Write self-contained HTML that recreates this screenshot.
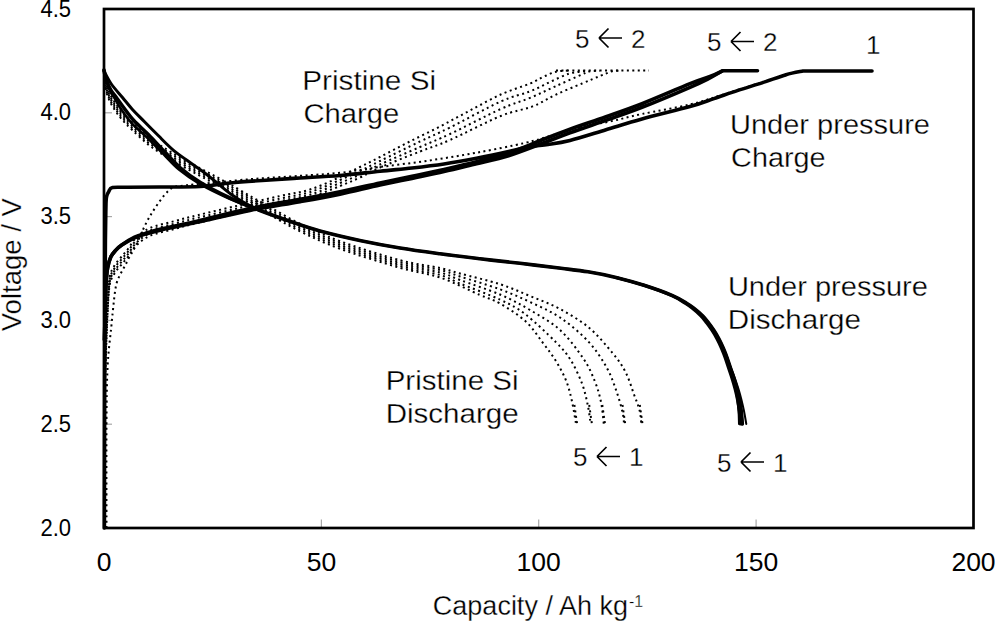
<!DOCTYPE html>
<html><head><meta charset="utf-8"><style>
html,body{margin:0;padding:0;background:#fff;}
svg{display:block;}
text{font-family:"Liberation Sans",sans-serif;fill:#000;}
.yt{font-size:23px;}
.xt{font-size:26.5px;}
.lab{font-size:26px;stroke:#fff;stroke-width:0.3px;}
.ann{font-size:27px;stroke:#fff;stroke-width:0.3px;}
</style></head><body>
<svg width="995" height="621" viewBox="0 0 995 621">
<rect x="0" y="0" width="995" height="621" fill="#fff"/>
<line x1="105" x2="112" y1="112.8" y2="112.8" stroke="#a8a8a8" stroke-width="1.2"/><line x1="105" x2="112" y1="216.6" y2="216.6" stroke="#a8a8a8" stroke-width="1.2"/><line x1="105" x2="112" y1="320.4" y2="320.4" stroke="#a8a8a8" stroke-width="1.2"/><line x1="105" x2="112" y1="424.2" y2="424.2" stroke="#a8a8a8" stroke-width="1.2"/><line x1="321.4" x2="321.4" y1="519.5" y2="527" stroke="#a8a8a8" stroke-width="1.2"/><line x1="538.7" x2="538.7" y1="519.5" y2="527" stroke="#a8a8a8" stroke-width="1.2"/><line x1="756.1" x2="756.1" y1="519.5" y2="527" stroke="#a8a8a8" stroke-width="1.2"/>
<path d="M104.0,75.2 C104.3,76.3 104.8,79.1 105.6,81.9 C106.4,84.7 107.5,88.6 109.0,92.0 C110.5,95.4 112.6,99.0 114.7,102.2 C116.8,105.4 118.5,107.9 121.4,111.2 C124.3,114.5 127.2,117.7 132.0,122.2 C136.8,126.7 143.3,133.1 150.0,138.2 C156.7,143.3 163.7,147.7 172.0,152.7 C180.3,157.7 190.8,163.2 200.0,168.2 C209.2,173.2 216.7,176.9 227.0,182.7 C237.3,188.4 249.8,195.9 262.0,202.7 C274.2,209.5 287.0,217.3 300.0,223.7 C313.0,230.1 323.3,235.1 340.0,241.2 C356.7,247.3 383.3,255.7 400.0,260.2 C416.7,264.7 430.0,265.8 440.0,268.0 C450.0,270.2 450.0,270.8 460.0,273.5 C470.0,276.2 488.3,280.4 500.0,284.2 C511.7,287.9 520.0,291.9 530.0,296.0 C540.0,300.1 550.2,303.7 560.0,309.0 C569.8,314.3 580.2,320.4 589.0,327.7 C597.8,335.0 606.4,345.6 612.5,353.0 C618.6,360.4 621.9,365.0 625.5,372.0 C629.1,379.0 631.9,388.7 634.2,395.0 C636.5,401.3 638.3,405.3 639.5,410.0 C640.7,414.7 641.0,420.8 641.3,423.0" fill="none" stroke="#000" stroke-width="2.0" stroke-dasharray="2 3.45"/>
<path d="M104.0,77.1 C104.3,78.2 104.8,81.0 105.6,83.8 C106.4,86.6 107.5,90.5 109.0,93.9 C110.5,97.3 112.6,100.9 114.7,104.1 C116.8,107.3 118.5,109.8 121.4,113.1 C124.3,116.4 127.2,119.6 132.0,124.1 C136.8,128.6 143.3,135.0 150.0,140.1 C156.7,145.2 163.7,149.6 172.0,154.6 C180.3,159.6 190.8,165.1 200.0,170.1 C209.2,175.1 216.7,178.8 227.0,184.6 C237.3,190.3 249.8,197.8 262.0,204.6 C274.2,211.4 287.0,219.2 300.0,225.6 C313.0,232.0 323.3,237.0 340.0,243.1 C356.7,249.2 383.3,257.6 400.0,262.1 C416.7,266.6 430.0,267.6 440.0,270.0 C450.0,272.4 450.0,273.3 460.0,276.5 C470.0,279.7 488.3,285.1 500.0,289.3 C511.7,293.6 520.0,297.3 530.0,302.0 C540.0,306.7 550.3,311.0 560.0,317.5 C569.7,324.0 580.2,332.9 588.0,341.2 C595.8,349.5 601.9,359.0 606.7,367.5 C611.5,376.0 614.1,384.7 616.8,392.2 C619.4,399.7 621.4,407.3 622.6,412.5 C623.8,417.7 623.8,421.5 624.0,423.3" fill="none" stroke="#000" stroke-width="2.0" stroke-dasharray="2 3.45"/>
<path d="M104.0,79.0 C104.3,80.1 104.8,82.9 105.6,85.7 C106.4,88.5 107.5,92.4 109.0,95.8 C110.5,99.2 112.6,102.8 114.7,106.0 C116.8,109.2 118.5,111.7 121.4,115.0 C124.3,118.3 127.2,121.5 132.0,126.0 C136.8,130.5 143.3,136.9 150.0,142.0 C156.7,147.1 163.7,151.5 172.0,156.5 C180.3,161.5 190.8,167.0 200.0,172.0 C209.2,177.0 216.7,180.8 227.0,186.5 C237.3,192.2 249.8,199.7 262.0,206.5 C274.2,213.3 287.0,221.1 300.0,227.5 C313.0,233.9 323.3,238.9 340.0,245.0 C356.7,251.1 383.3,259.4 400.0,264.0 C416.7,268.6 430.0,269.8 440.0,272.5 C450.0,275.2 450.0,276.3 460.0,280.0 C470.0,283.7 488.3,289.5 500.0,294.5 C511.7,299.5 520.0,304.1 530.0,310.0 C540.0,315.9 551.1,321.9 560.0,330.0 C568.9,338.1 577.6,350.1 583.5,358.8 C589.4,367.5 592.2,374.8 595.1,382.0 C598.0,389.2 599.5,395.0 601.0,402.0 C602.5,409.0 603.3,420.3 603.8,424.0" fill="none" stroke="#000" stroke-width="2.0" stroke-dasharray="2 3.45"/>
<path d="M104.0,80.9 C104.3,82.0 104.8,84.8 105.6,87.6 C106.4,90.4 107.5,94.3 109.0,97.7 C110.5,101.1 112.6,104.7 114.7,107.9 C116.8,111.1 118.5,113.6 121.4,116.9 C124.3,120.2 127.2,123.4 132.0,127.9 C136.8,132.4 143.3,138.8 150.0,143.9 C156.7,149.0 163.7,153.4 172.0,158.4 C180.3,163.4 190.8,168.9 200.0,173.9 C209.2,178.9 216.7,182.7 227.0,188.4 C237.3,194.2 249.8,201.6 262.0,208.4 C274.2,215.2 287.0,223.0 300.0,229.4 C313.0,235.8 323.3,240.8 340.0,246.9 C356.7,253.0 383.3,261.2 400.0,265.9 C416.7,270.6 430.0,272.1 440.0,275.0 C450.0,277.9 450.0,279.4 460.0,283.5 C470.0,287.6 489.2,294.5 500.0,299.6 C510.8,304.7 515.7,306.9 525.0,314.0 C534.3,321.1 548.3,334.6 555.9,342.2 C563.5,349.8 566.0,352.7 570.4,359.6 C574.8,366.5 579.1,375.9 582.0,383.5 C584.9,391.1 586.3,398.4 587.8,405.2 C589.2,411.9 590.2,420.9 590.7,424.0" fill="none" stroke="#000" stroke-width="2.0" stroke-dasharray="2 3.45"/>
<path d="M104.0,82.8 C104.3,83.9 104.8,86.7 105.6,89.5 C106.4,92.3 107.5,96.2 109.0,99.6 C110.5,103.0 112.6,106.6 114.7,109.8 C116.8,113.0 118.5,115.5 121.4,118.8 C124.3,122.1 127.2,125.3 132.0,129.8 C136.8,134.3 143.3,140.7 150.0,145.8 C156.7,150.9 163.7,155.3 172.0,160.3 C180.3,165.3 190.8,170.8 200.0,175.8 C209.2,180.8 216.7,184.6 227.0,190.3 C237.3,196.1 249.8,203.5 262.0,210.3 C274.2,217.1 287.0,224.9 300.0,231.3 C313.0,237.7 323.3,242.7 340.0,248.8 C356.7,254.9 383.3,263.0 400.0,267.8 C416.7,272.6 426.7,273.0 440.0,277.5 C453.3,282.0 470.0,290.7 480.0,295.0 C490.0,299.3 492.4,299.1 500.0,303.5 C507.6,307.9 518.6,314.9 525.8,321.5 C532.9,328.1 537.9,336.3 542.9,342.9 C547.9,349.5 552.0,354.7 555.9,361.0 C559.8,367.3 563.4,373.9 566.1,380.6 C568.8,387.3 570.3,393.9 571.9,401.0 C573.5,408.1 575.2,419.3 575.9,423.0" fill="none" stroke="#000" stroke-width="2.0" stroke-dasharray="2 3.45"/>
<path d="M639.8,405.0 L642.5,424.0" fill="none" stroke="#000" stroke-width="2.0" stroke-dasharray="2 3.45"/>
<path d="M622.5,405.0 L625.2,424.0" fill="none" stroke="#000" stroke-width="2.0" stroke-dasharray="2 3.45"/>
<path d="M602.3,405.0 L605.0,424.0" fill="none" stroke="#000" stroke-width="2.0" stroke-dasharray="2 3.45"/>
<path d="M589.2,405.0 L591.9,424.0" fill="none" stroke="#000" stroke-width="2.0" stroke-dasharray="2 3.45"/>
<path d="M574.4,405.0 L577.1,424.0" fill="none" stroke="#000" stroke-width="2.0" stroke-dasharray="2 3.45"/>
<path d="M106.5,528.0 C106.5,510.0 106.3,447.2 106.5,420.0 C106.7,392.8 106.9,380.5 107.7,365.0 C108.5,349.5 110.2,337.8 111.3,327.0 C112.3,316.2 113.2,307.2 114.0,300.0 C114.8,292.8 115.4,288.3 116.4,284.0 C117.5,279.7 118.8,277.4 120.3,274.3 C121.8,271.2 123.5,268.7 125.1,265.6 C126.7,262.5 128.2,259.2 130.0,255.9 C131.8,252.6 132.4,252.5 135.7,245.8 C139.0,239.2 144.4,225.3 150.0,216.0 C155.6,206.7 163.5,195.1 169.3,190.0 C175.1,184.9 179.9,186.5 185.0,185.5 C190.1,184.5 189.2,185.1 200.0,184.0 C210.8,182.9 233.3,180.6 250.0,179.2 C266.7,177.8 285.0,176.9 300.0,175.8 C315.0,174.7 326.7,174.3 340.0,172.8 C353.3,171.3 365.3,169.0 380.0,167.0 C394.7,165.0 411.9,163.1 428.0,160.7 C444.1,158.3 460.4,155.6 476.5,152.7 C492.6,149.8 512.5,145.8 524.7,143.0 C537.0,140.2 540.8,138.7 550.0,136.0 C559.2,133.3 570.0,129.4 580.0,127.0 C590.0,124.6 599.7,123.7 610.0,121.5 C620.3,119.3 628.7,116.8 642.0,114.0 C655.3,111.2 677.0,107.6 690.0,104.5 C703.0,101.4 708.3,99.1 720.0,95.5 C731.7,91.9 746.7,87.1 760.0,83.0 C773.3,78.9 793.3,73.0 800.0,71.0" fill="none" stroke="#000" stroke-width="2.0" stroke-dasharray="2 3.45"/>
<path d="M105.0,375.0 C105.2,367.5 106.0,342.1 106.5,330.0 C107.0,317.9 107.2,311.3 107.7,302.5 C108.2,293.7 108.6,283.1 109.7,277.0 C110.8,270.9 112.6,268.9 114.5,265.6 C116.4,262.3 119.0,259.8 121.3,257.0 C123.5,254.2 125.5,252.2 128.0,249.0 C130.4,245.8 132.3,241.5 136.0,238.0 C139.7,234.5 143.5,230.8 150.0,228.0 C156.5,225.2 166.9,223.2 175.0,221.0 C183.1,218.8 187.7,217.6 198.3,215.0 C208.9,212.4 225.0,208.7 238.6,205.5 C252.2,202.3 268.1,198.7 280.0,196.0 C291.9,193.3 300.0,192.7 310.0,189.5 C320.0,186.3 331.7,180.8 340.0,177.0 C348.3,173.2 353.3,170.3 360.0,167.0 C366.7,163.7 371.9,161.2 380.0,157.0 C388.1,152.8 398.8,147.1 408.8,142.0 C418.8,136.9 429.8,131.8 440.0,126.5 C450.2,121.2 459.9,115.8 470.0,110.5 C480.1,105.2 490.7,99.0 500.7,94.5 C510.7,90.0 523.0,86.4 530.0,83.5 C537.0,80.6 538.7,79.0 543.0,77.0 C547.3,75.0 551.7,72.9 556.0,71.8 C560.3,70.7 566.8,70.7 569.0,70.5" fill="none" stroke="#000" stroke-width="2.0" stroke-dasharray="2 3.45"/>
<path d="M105.0,377.6 C105.2,370.1 106.0,344.7 106.5,332.6 C107.0,320.5 107.2,313.9 107.7,305.1 C108.2,296.3 108.6,285.8 109.7,279.6 C110.8,273.5 112.6,271.5 114.5,268.2 C116.4,264.9 119.0,262.4 121.3,259.6 C123.5,256.8 125.5,254.8 128.0,251.6 C130.4,248.4 132.3,244.1 136.0,240.6 C139.7,237.1 143.5,233.4 150.0,230.6 C156.5,227.8 166.9,225.8 175.0,223.6 C183.1,221.4 187.7,220.2 198.3,217.6 C208.9,215.0 225.0,211.3 238.6,208.1 C252.2,204.9 268.1,201.3 280.0,198.6 C291.9,195.9 300.0,195.2 310.0,192.1 C320.0,189.0 331.7,183.5 340.0,180.0 C348.3,176.5 353.3,174.2 360.0,171.0 C366.7,167.8 370.0,165.9 380.0,161.0 C390.0,156.1 408.3,147.1 420.0,141.5 C431.7,135.9 436.6,134.2 450.0,127.5 C463.4,120.8 487.4,107.5 500.7,101.5 C514.0,95.5 521.9,94.6 530.0,91.4 C538.1,88.2 543.1,85.2 549.6,82.2 C556.1,79.2 563.1,75.6 569.0,73.7 C574.9,71.8 582.3,71.5 585.0,71.0" fill="none" stroke="#000" stroke-width="2.0" stroke-dasharray="2 3.45"/>
<path d="M105.0,380.2 C105.2,372.7 106.0,347.3 106.5,335.2 C107.0,323.1 107.2,316.5 107.7,307.7 C108.2,298.9 108.6,288.3 109.7,282.2 C110.8,276.1 112.6,274.1 114.5,270.8 C116.4,267.5 119.0,265.0 121.3,262.2 C123.5,259.4 125.5,257.4 128.0,254.2 C130.4,251.0 132.3,246.7 136.0,243.2 C139.7,239.7 143.5,236.0 150.0,233.2 C156.5,230.4 166.9,228.4 175.0,226.2 C183.1,224.0 187.7,222.8 198.3,220.2 C208.9,217.6 225.0,213.9 238.6,210.7 C252.2,207.5 268.1,203.9 280.0,201.2 C291.9,198.5 300.0,197.7 310.0,194.7 C320.0,191.7 331.7,186.4 340.0,183.0 C348.3,179.6 353.3,177.6 360.0,174.5 C366.7,171.4 370.0,169.1 380.0,164.5 C390.0,159.9 408.3,152.1 420.0,147.0 C431.7,141.9 436.6,140.3 450.0,134.0 C463.4,127.7 487.4,115.0 500.7,109.0 C514.0,103.0 520.8,101.7 530.0,97.9 C539.2,94.1 547.3,90.0 556.0,86.1 C564.7,82.2 576.5,76.8 582.0,74.4 C587.5,72.0 586.0,72.1 589.0,71.5 C592.0,70.9 598.2,70.8 600.0,70.7" fill="none" stroke="#000" stroke-width="2.0" stroke-dasharray="2 3.45"/>
<path d="M105.0,382.8 C105.2,375.3 106.0,349.9 106.5,337.8 C107.0,325.7 107.2,319.1 107.7,310.3 C108.2,301.5 108.6,290.9 109.7,284.8 C110.8,278.7 112.6,276.7 114.5,273.4 C116.4,270.1 119.0,267.6 121.3,264.8 C123.5,262.0 125.5,260.0 128.0,256.8 C130.4,253.6 132.3,249.3 136.0,245.8 C139.7,242.3 143.5,238.6 150.0,235.8 C156.5,233.0 166.9,231.0 175.0,228.8 C183.1,226.6 187.7,225.4 198.3,222.8 C208.9,220.2 225.0,216.5 238.6,213.3 C252.2,210.1 268.1,206.5 280.0,203.8 C291.9,201.1 300.0,200.3 310.0,197.3 C320.0,194.3 331.7,189.3 340.0,186.0 C348.3,182.7 353.3,180.6 360.0,177.5 C366.7,174.4 370.0,171.8 380.0,167.5 C390.0,163.2 408.3,156.1 420.0,151.5 C431.7,146.9 436.6,145.9 450.0,140.0 C463.4,134.1 486.9,121.6 500.7,116.0 C514.5,110.4 523.4,110.0 532.6,106.4 C541.8,102.8 547.8,98.4 556.0,94.6 C564.2,90.8 574.7,86.6 582.0,83.5 C589.3,80.4 595.0,78.0 600.0,76.0 C605.0,74.0 608.7,72.2 612.0,71.3 C615.3,70.4 618.7,70.8 620.0,70.7" fill="none" stroke="#000" stroke-width="2.0" stroke-dasharray="2 3.45"/>
<path d="M556,70.5 H649" fill="none" stroke="#000" stroke-width="2.0" stroke-dasharray="2 3.45"/>
<path d="M104.0,71.0 C105.2,73.2 108.2,79.6 111.3,84.0 C114.4,88.4 118.9,93.2 122.5,97.5 C126.1,101.8 129.2,106.0 132.9,110.0 C136.6,114.0 140.2,117.4 144.5,121.8 C148.8,126.2 154.2,131.6 159.0,136.3 C163.8,141.1 168.7,146.2 173.5,150.3 C178.3,154.4 183.2,157.5 188.0,161.0 C192.8,164.5 197.8,167.8 202.5,171.3 C207.2,174.8 211.2,178.1 216.0,182.0 C220.8,185.9 226.6,191.0 231.4,194.5 C236.2,198.0 240.2,200.4 245.0,203.0 C249.8,205.6 257.5,209.1 260.0,210.3" fill="none" stroke="#000" stroke-width="3.0" stroke-linejoin="round" stroke-linecap="round"/>
<path d="M104.0,70.0 C104.3,71.5 104.8,75.6 106.0,79.0 C107.2,82.4 109.3,87.5 111.0,90.5 C112.7,93.5 114.1,94.4 116.0,97.0 C117.9,99.6 119.5,102.1 122.5,106.0 C125.5,109.9 129.5,115.8 133.8,120.5 C138.1,125.2 143.2,129.3 148.3,134.5 C153.4,139.7 159.0,145.9 164.4,151.5 C169.8,157.1 174.5,162.8 180.5,168.0 C186.5,173.2 192.2,177.5 200.5,182.5 C208.8,187.5 220.1,193.3 230.0,198.0 C239.9,202.7 250.0,206.6 260.0,210.5 C270.0,214.4 280.0,217.9 290.0,221.3 C300.0,224.7 308.2,227.8 320.0,231.0 C331.8,234.2 347.7,237.9 361.0,240.7 C374.3,243.5 386.8,245.8 400.0,248.0 C413.2,250.2 426.7,252.0 440.0,253.8 C453.3,255.6 466.7,257.2 480.0,258.8 C493.3,260.4 506.5,261.7 520.0,263.3 C533.5,264.9 549.7,266.9 561.0,268.3 C572.3,269.7 578.8,270.3 588.0,271.8 C597.2,273.3 606.7,275.2 616.0,277.5 C625.3,279.8 634.6,282.3 644.0,285.3 C653.4,288.3 665.5,292.6 672.6,295.6 C679.7,298.6 683.1,301.2 686.6,303.3 C690.1,305.4 691.1,306.1 693.8,308.2 C696.5,310.3 700.3,313.6 702.8,316.0 C705.2,318.4 706.6,320.4 708.5,322.8 C710.4,325.2 712.2,327.8 714.0,330.5 C715.8,333.2 717.5,336.2 719.0,339.0 C720.5,341.8 721.7,344.4 723.0,347.5 C724.3,350.6 725.8,354.1 727.0,357.5 C728.2,360.9 729.3,364.5 730.5,368.0 C731.7,371.5 732.9,375.0 734.0,378.5 C735.1,382.0 736.1,385.4 737.0,389.0 C737.9,392.6 738.8,396.3 739.5,400.0 C740.2,403.7 740.7,407.0 741.2,411.0 C741.7,415.0 742.1,421.8 742.3,424.0" fill="none" stroke="#000" stroke-width="3.6" stroke-linejoin="round" stroke-linecap="round"/>
<path d="M104.0,70.0 C104.3,71.5 104.8,75.7 105.8,79.3 C106.9,82.9 108.8,88.3 110.3,91.5 C111.8,94.7 113.1,95.9 114.9,98.7 C116.6,101.6 117.9,104.5 120.7,108.6 C123.6,112.7 127.6,118.6 131.9,123.3 C136.2,128.0 141.5,131.9 146.6,137.0 C151.8,142.0 157.5,148.2 163.0,153.6 C168.4,159.1 173.2,164.7 179.3,169.8 C185.4,174.8 191.2,179.0 199.6,183.8 C208.0,188.6 219.5,194.2 229.6,198.7 C239.6,203.1 249.9,206.7 260.0,210.5 C270.1,214.3 280.0,217.9 290.0,221.3 C300.0,224.7 308.2,227.8 320.0,231.0 C331.8,234.2 347.7,237.9 361.0,240.7 C374.3,243.5 386.8,245.8 400.0,248.0 C413.2,250.2 426.7,252.0 440.0,253.8 C453.3,255.6 466.7,257.2 480.0,258.8 C493.3,260.4 506.5,261.7 520.0,263.3 C533.5,264.9 549.7,266.9 561.0,268.3 C572.3,269.7 578.8,270.3 588.0,271.8 C597.2,273.3 606.7,275.2 616.0,277.5 C625.3,279.8 634.6,282.3 644.0,285.3 C653.4,288.3 665.5,292.6 672.6,295.6 C679.7,298.6 683.1,301.2 686.6,303.3 C690.1,305.4 691.1,306.1 693.8,308.2 C696.5,310.3 700.3,313.6 702.8,316.0 C705.2,318.4 706.6,320.4 708.5,322.8 C710.4,325.2 712.2,327.8 714.0,330.5 C715.8,333.2 717.5,336.2 719.0,339.0 C720.5,341.8 721.7,344.4 723.0,347.5 C724.3,350.6 725.8,354.1 727.0,357.5 C728.2,360.9 729.3,364.5 730.5,368.0 C731.7,371.5 732.9,375.0 734.0,378.5 C735.1,382.0 736.1,385.4 737.0,389.0 C737.9,392.6 738.8,396.3 739.5,400.0 C740.2,403.7 740.7,407.0 741.2,411.0 C741.7,415.0 742.1,421.8 742.3,424.0" fill="none" stroke="#000" stroke-width="2.6" stroke-linejoin="round" stroke-linecap="round"/>
<path d="M616.0,277.5 C620.7,278.8 634.7,282.3 644.0,285.3 C653.3,288.3 664.8,292.6 671.7,295.6 C678.6,298.6 681.7,301.2 685.1,303.3 C688.5,305.4 689.4,306.1 692.0,308.2 C694.7,310.3 698.4,313.6 700.8,316.0 C703.2,318.4 704.6,320.4 706.5,322.8 C708.4,325.2 710.2,327.8 712.0,330.5 C713.8,333.2 715.5,336.2 717.0,339.0 C718.5,341.8 719.7,344.4 721.0,347.5 C722.3,350.6 723.8,354.1 725.0,357.5 C726.2,360.9 727.3,364.5 728.5,368.0 C729.7,371.5 730.9,375.0 732.0,378.5 C733.1,382.0 734.1,385.4 735.0,389.0 C735.9,392.6 736.8,396.3 737.5,400.0 C738.2,403.7 738.7,407.0 739.2,411.0 C739.7,415.0 740.1,421.8 740.3,424.0" fill="none" stroke="#000" stroke-width="3.0" stroke-linejoin="round" stroke-linecap="round"/>
<path d="M719.0,339.0 C719.7,340.4 721.7,344.4 723.0,347.5 C724.3,350.6 725.8,354.1 727.0,357.5 C728.2,360.9 729.0,364.5 730.0,368.0 C731.0,371.5 732.1,375.0 733.0,378.5 C733.9,382.0 734.8,385.4 735.5,389.0 C736.2,392.6 736.8,396.3 737.3,400.0 C737.8,403.7 738.2,407.0 738.5,411.0 C738.8,415.0 738.9,421.8 739.0,424.0" fill="none" stroke="#000" stroke-width="2.0" stroke-linejoin="round" stroke-linecap="round"/>
<path d="M719.0,339.0 C719.7,340.4 721.7,344.4 723.0,347.5 C724.3,350.6 725.7,354.1 727.0,357.5 C728.3,360.9 729.7,364.5 731.0,368.0 C732.3,371.5 733.8,375.0 735.0,378.5 C736.2,382.0 737.4,385.4 738.5,389.0 C739.6,392.6 740.6,396.3 741.5,400.0 C742.4,403.7 743.2,407.0 744.0,411.0 C744.8,415.0 745.9,421.8 746.3,424.0" fill="none" stroke="#000" stroke-width="2.0" stroke-linejoin="round" stroke-linecap="round"/>
<path d="M104.4,528 L104.8,330 L105.4,240 L105.8,212 L106,203 C106.1,201.9 106.1,198.4 106.6,196.5 C107.1,194.6 107.8,193.0 108.8,191.5 C109.8,190.0 109.3,188.2 112.5,187.5 C115.7,186.8 120.1,187.4 128.0,187.3 C135.9,187.2 148.0,187.1 160.0,187.0 C172.0,186.9 188.3,187.2 200.0,186.5 C211.7,185.8 219.7,184.0 230.0,183.0 C240.3,182.0 250.3,181.3 262.0,180.5 C273.7,179.7 287.0,178.8 300.0,178.0 C313.0,177.2 326.7,176.6 340.0,175.5 C353.3,174.4 368.0,172.4 380.0,171.2 C392.0,169.9 401.3,169.2 412.0,168.0 C422.7,166.8 433.2,165.6 444.0,164.0 C454.8,162.4 465.7,160.4 476.5,158.3 C487.3,156.2 499.7,153.5 508.6,151.5 C517.5,149.5 523.4,147.7 530.0,146.5 C536.6,145.3 541.3,145.5 548.0,144.5 C554.7,143.5 560.3,142.9 570.0,140.5 C579.7,138.1 594.0,133.4 606.0,129.8 C618.0,126.2 628.0,122.9 642.0,119.0 C656.0,115.1 678.0,110.0 690.0,106.6 C702.0,103.2 706.0,101.3 714.0,98.6 C722.0,95.9 730.0,93.0 738.0,90.4 C746.0,87.8 754.0,85.5 762.0,82.9 C770.0,80.3 779.2,76.7 786.0,74.7 C792.8,72.7 800.2,71.6 803.0,71.0 L872.0,71.0" fill="none" stroke="#000" stroke-width="3.6" stroke-linejoin="round" stroke-linecap="round"/>
<path d="M104.5,340.0 C104.7,333.3 105.1,310.0 105.4,300.0 C105.7,290.0 105.9,285.3 106.3,280.0 C106.7,274.6 106.8,271.8 107.6,268.0 C108.3,264.1 109.5,259.9 110.8,256.9 C112.1,254.0 113.7,252.4 115.5,250.4 C117.3,248.4 118.5,247.0 121.7,244.9 C124.9,242.7 130.3,239.3 134.6,237.2 C138.9,235.2 142.8,234.2 147.5,232.8 C152.2,231.3 158.4,229.7 163.0,228.6 C167.6,227.4 169.2,227.3 175.0,226.0 C180.8,224.7 185.5,223.8 198.0,220.9 C210.5,218.0 233.0,212.2 250.0,208.6 C267.0,205.0 285.0,202.1 300.0,199.3 C315.0,196.5 326.7,194.6 340.0,191.8 C353.3,189.1 368.0,185.5 380.0,182.9 C392.0,180.3 401.3,178.5 412.0,176.2 C422.7,174.0 433.2,171.9 444.0,169.5 C454.8,167.0 465.7,164.5 476.5,161.7 C487.3,158.9 498.0,156.4 508.6,152.9 C519.2,149.4 529.8,144.7 540.0,140.7 C550.2,136.7 559.0,133.2 570.0,129.2 C581.0,125.2 594.0,121.0 606.0,116.7 C618.0,112.5 628.0,109.2 642.0,103.7 C656.0,98.2 678.7,88.2 690.0,83.7 C701.3,79.2 704.6,78.7 710.0,76.5 C715.4,74.4 720.4,71.8 722.5,70.8 L757.5,70.8" fill="none" stroke="#000" stroke-width="3.6" stroke-linejoin="round" stroke-linecap="round"/>
<path d="M104.5,340.0 C104.7,333.3 105.1,310.0 105.4,300.0 C105.7,290.0 105.9,285.3 106.3,280.0 C106.7,274.7 106.8,271.9 107.6,268.0 C108.3,264.2 109.5,260.0 110.8,257.1 C112.1,254.2 113.7,252.6 115.5,250.6 C117.3,248.6 118.5,247.3 121.7,245.1 C124.9,243.0 130.3,239.7 134.6,237.8 C138.9,235.8 142.8,234.8 147.5,233.4 C152.2,232.1 158.4,230.5 163.0,229.4 C167.6,228.4 169.2,228.2 175.0,227.0 C180.8,225.8 185.5,224.9 198.0,222.1 C210.5,219.4 233.0,213.8 250.0,210.4 C267.0,207.0 285.0,204.4 300.0,201.7 C315.0,199.0 326.7,196.9 340.0,194.2 C353.3,191.4 368.0,187.7 380.0,185.1 C392.0,182.5 401.3,180.6 412.0,178.4 C422.7,176.1 433.2,174.0 444.0,171.5 C454.8,169.1 465.7,166.3 476.5,163.7 C487.3,161.1 498.0,158.9 508.6,155.7 C519.2,152.4 529.8,148.1 540.0,144.3 C550.2,140.5 559.0,136.8 570.0,132.8 C581.0,128.8 594.0,124.5 606.0,120.3 C618.0,116.0 628.0,112.8 642.0,107.3 C656.0,101.8 678.7,92.2 690.0,87.3 C701.3,82.4 704.6,80.6 710.0,77.9 C715.4,75.1 720.4,72.0 722.5,70.8" fill="none" stroke="#000" stroke-width="3.6" stroke-linejoin="round" stroke-linecap="round"/>
<rect x="104" y="9" width="869.5" height="519" fill="none" stroke="#000" stroke-width="2.7"/>
<text x="71" y="16.6" text-anchor="end" class="yt" textLength="30.6" lengthAdjust="spacingAndGlyphs">4.5</text><text x="71" y="120.4" text-anchor="end" class="yt" textLength="30.6" lengthAdjust="spacingAndGlyphs">4.0</text><text x="71" y="224.2" text-anchor="end" class="yt" textLength="30.6" lengthAdjust="spacingAndGlyphs">3.5</text><text x="71" y="328.0" text-anchor="end" class="yt" textLength="30.6" lengthAdjust="spacingAndGlyphs">3.0</text><text x="71" y="431.8" text-anchor="end" class="yt" textLength="30.6" lengthAdjust="spacingAndGlyphs">2.5</text><text x="71" y="535.6" text-anchor="end" class="yt" textLength="30.6" lengthAdjust="spacingAndGlyphs">2.0</text>
<text x="104.0" y="571" text-anchor="middle" class="xt">0</text><text x="321.4" y="571" text-anchor="middle" class="xt">50</text><text x="538.7" y="571" text-anchor="middle" class="xt">100</text><text x="756.1" y="571" text-anchor="middle" class="xt">150</text><text x="973.5" y="571" text-anchor="middle" class="xt">200</text>
<text x="538" y="614.5" text-anchor="middle" class="ann">Capacity / Ah kg<tspan dy="-8" dx="1" font-size="16">-1</tspan></text>
<text transform="translate(20.5,264.7) rotate(-90)" text-anchor="middle" class="ann" textLength="133" lengthAdjust="spacingAndGlyphs">Voltage / V</text>
<text x="302.3" y="90" class="ann" textLength="133.8" lengthAdjust="spacingAndGlyphs">Pristine Si</text>
<text x="303.4" y="123" class="ann" textLength="95.8" lengthAdjust="spacingAndGlyphs">Charge</text>
<text x="730" y="133.5" class="ann" textLength="200" lengthAdjust="spacingAndGlyphs">Under pressure</text>
<text x="731.1" y="166.5" class="ann" textLength="94.4" lengthAdjust="spacingAndGlyphs">Charge</text>
<text x="727.9" y="295.5" class="ann" textLength="200" lengthAdjust="spacingAndGlyphs">Under pressure</text>
<text x="727.8" y="329" class="ann" textLength="133.2" lengthAdjust="spacingAndGlyphs">Discharge</text>
<text x="385.7" y="390" class="ann" textLength="132.8" lengthAdjust="spacingAndGlyphs">Pristine Si</text>
<text x="385.7" y="423" class="ann" textLength="132.9" lengthAdjust="spacingAndGlyphs">Discharge</text>
<text x="575.0" y="47.5" class="lab">5</text><path d="M599.0,38.0 h23 M599.0,38.0 l9.5,-9.5 M599.0,38.0 l9.5,9.5" stroke="#000" stroke-width="1.7" fill="none"/><text x="631.0" y="47.5" class="lab">2</text>
<text x="707.0" y="51.0" class="lab">5</text><path d="M731.0,41.5 h23 M731.0,41.5 l9.5,-9.5 M731.0,41.5 l9.5,9.5" stroke="#000" stroke-width="1.7" fill="none"/><text x="763.0" y="51.0" class="lab">2</text>
<text x="866" y="54" class="lab">1</text>
<text x="573.0" y="466.0" class="lab">5</text><path d="M597.0,456.5 h23 M597.0,456.5 l9.5,-9.5 M597.0,456.5 l9.5,9.5" stroke="#000" stroke-width="1.7" fill="none"/><text x="629.0" y="466.0" class="lab">1</text>
<text x="717.0" y="471.5" class="lab">5</text><path d="M741.0,462.0 h23 M741.0,462.0 l9.5,-9.5 M741.0,462.0 l9.5,9.5" stroke="#000" stroke-width="1.7" fill="none"/><text x="773.0" y="471.5" class="lab">1</text>
</svg>
</body></html>
